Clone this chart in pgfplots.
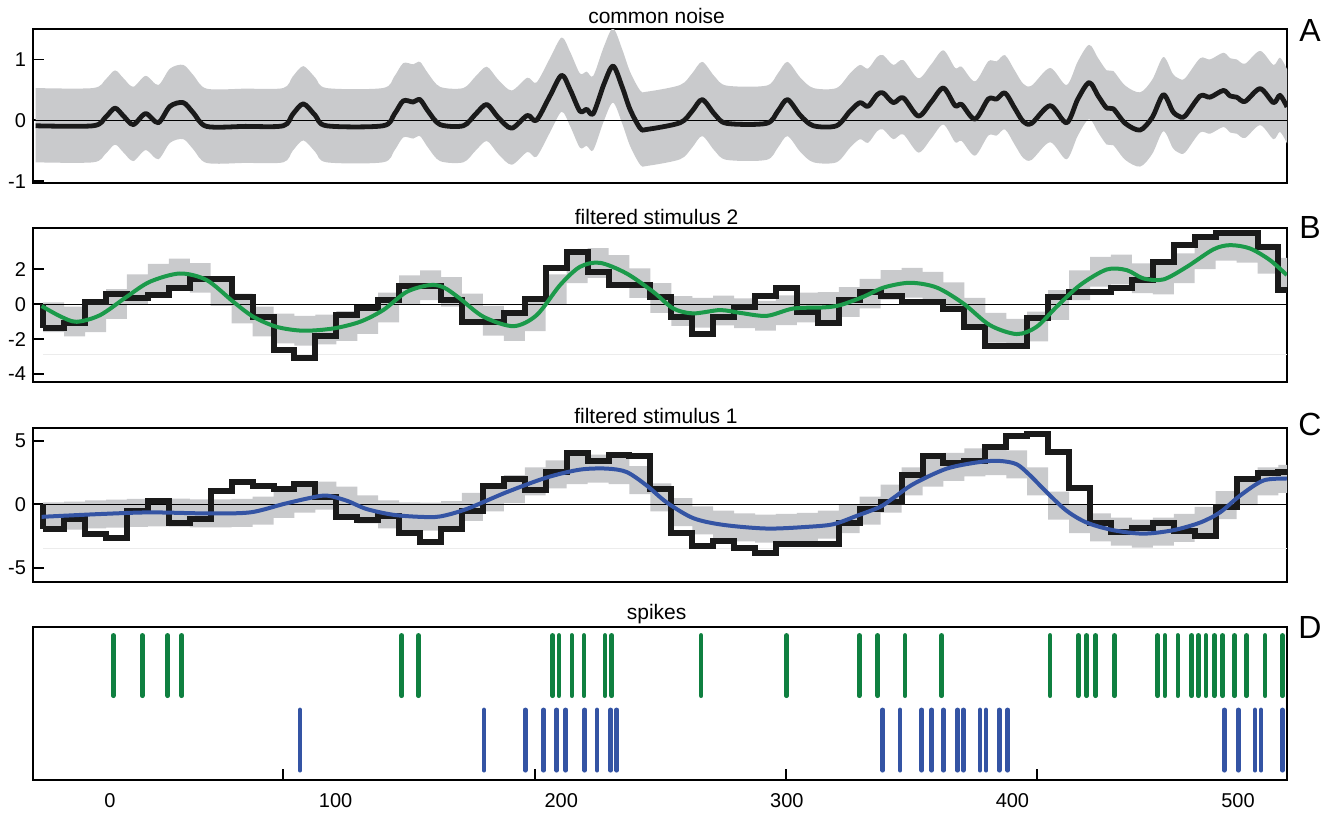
\documentclass[border=0pt]{standalone}
\usepackage{pgfplots}
\pgfplotsset{compat=1.18}
\usepackage{pgfplotstable}
\usepgfplotslibrary{fillbetween}
\usepackage{fontspec}
\setmainfont{Liberation Sans}
\definecolor{bandgray}{HTML}{C9CACC}
\definecolor{lineblack}{HTML}{1A1A1A}
\definecolor{stimgreen}{HTML}{1B9A4A}
\definecolor{spikegreen}{HTML}{0F8040}
\definecolor{stimblue}{HTML}{3454A4}
\definecolor{faint}{HTML}{ECECEC}

\pgfplotstableread{
x y hi lo
-33 -0.09 0.53 -0.69
-7.5 -0.09 0.53 -0.69
-2 0.05 0.67 -0.55
2.2 0.2 0.82 -0.40
6 0.07 0.69 -0.53
10.3 -0.07 0.55 -0.67
15.8 0.11 0.73 -0.49
21.4 -0.04 0.58 -0.64
26.6 0.23 0.85 -0.37
32.5 0.29 0.91 -0.31
37 0.12 0.74 -0.48
42.8 -0.1 0.52 -0.70
60 -0.1 0.52 -0.70
76.8 -0.09 0.53 -0.69
81 0.1 0.72 -0.50
85.7 0.27 0.89 -0.33
91 0.08 0.70 -0.52
96 -0.09 0.53 -0.69
121 -0.09 0.53 -0.69
126 0.1 0.72 -0.50
130 0.32 0.94 -0.28
134.4 0.3 0.92 -0.30
137.4 0.34 0.96 -0.26
141 0.15 0.77 -0.45
146.3 -0.07 0.55 -0.67
156.6 -0.09 0.53 -0.69
162 0.1 0.72 -0.50
167 0.26 0.88 -0.34
172 0.05 0.67 -0.55
178 -0.13 0.49 -0.73
185 0.08 0.70 -0.52
189 0.0 0.62 -0.60
195 0.4 1.02 -0.20
200.2 0.74 1.36 0.14
204 0.5 1.12 -0.10
208.3 0.15 0.77 -0.45
211.3 0.18 0.80 -0.42
214.2 0.11 0.73 -0.49
219 0.6 1.22 0.00
223 0.89 1.51 0.29
227 0.55 1.17 -0.05
230.5 0.18 0.80 -0.42
235 -0.13 0.49 -0.73
237.9 -0.15 0.47 -0.75
252.7 -0.04 0.58 -0.64
258 0.15 0.77 -0.45
262.5 0.34 0.96 -0.26
268 0.1 0.72 -0.50
273.3 -0.05 0.57 -0.65
291 -0.05 0.57 -0.65
296 0.15 0.77 -0.45
300.3 0.34 0.96 -0.26
306 0.08 0.70 -0.52
311.8 -0.09 0.53 -0.69
322 -0.09 0.53 -0.69
328 0.15 0.77 -0.45
332.4 0.29 0.91 -0.31
336 0.23 0.85 -0.37
340 0.42 1.04 -0.18
342.7 0.45 1.07 -0.15
347.2 0.29 0.91 -0.31
351.6 0.37 0.99 -0.23
358.3 0.07 0.69 -0.53
364 0.3 0.92 -0.30
369.4 0.53 1.15 -0.07
374.6 0.24 0.86 -0.36
377.5 0.26 0.88 -0.34
383.4 0.02 0.64 -0.58
389.3 0.35 0.97 -0.25
393 0.35 0.97 -0.25
396.7 0.45 1.07 -0.15
401 0.2 0.82 -0.40
404.8 -0.02 0.60 -0.62
408.5 -0.05 0.57 -0.65
416.7 0.24 0.86 -0.36
424 -0.04 0.58 -0.64
429 0.35 0.97 -0.25
434 0.62 1.24 0.02
438 0.4 1.02 -0.20
441.8 0.2 0.82 -0.40
444.7 0.19 0.81 -0.41
450 -0.05 0.57 -0.65
456.6 -0.16 0.46 -0.76
462 0.05 0.67 -0.55
466.9 0.42 1.04 -0.18
471 0.15 0.77 -0.45
473.6 0.07 0.69 -0.53
476.5 0.07 0.69 -0.53
483.2 0.4 1.02 -0.20
487.6 0.38 1.00 -0.22
493.5 0.49 1.11 -0.11
496.5 0.4 1.02 -0.20
499.4 0.38 1.00 -0.22
503.1 0.31 0.93 -0.29
509.8 0.52 1.14 -0.08
515.7 0.29 0.91 -0.31
518.6 0.41 1.03 -0.19
521.7 0.22 0.84 -0.38
}\Adata

\pgfplotstableread{
x val lo hi
-29.6 -1.39 -1.60 0.10
-20.32 -1.1 -1.85 -0.15
-11.04 0.13 -1.60 0.10
-1.76 0.55 -0.85 0.85
7.52 0.36 0.00 1.70
16.8 0.51 0.60 2.30
26.08 0.93 0.90 2.60
35.36 1.43 0.65 2.35
44.64 1.43 -0.10 1.60
53.92 0.42 -1.10 0.60
63.2 -0.72 -1.85 -0.15
72.48 -2.63 -2.25 -0.55
81.76 -3.1 -2.37 -0.67
91.04 -1.83 -2.30 -0.60
100.32 -0.63 -2.10 -0.40
109.6 -0.25 -1.70 0.00
118.88 0.23 -1.05 0.65
128.16 1.05 -0.05 1.65
137.44 1.05 0.23 1.93
146.72 0.23 -0.15 1.55
156.0 -1.01 -1.10 0.60
165.28 -1.01 -1.80 -0.10
174.56 -0.53 -2.10 -0.40
183.84 0.27 -1.55 0.15
193.12 2.04 0.00 1.70
202.4 2.99 1.20 2.90
211.68 1.85 1.50 3.20
220.96 1.09 1.10 2.80
230.24 1.09 0.35 2.05
239.52 0.42 -0.50 1.20
248.8 -0.72 -1.25 0.45
258.08 -1.68 -1.35 0.35
267.36 -0.72 -1.22 0.48
276.64 -0.15 -1.37 0.33
285.92 0.48 -1.52 0.18
295.2 0.9 -1.20 0.50
304.48 -0.44 -1.05 0.65
313.76 -1.1 -1.02 0.68
323.04 0.23 -0.73 0.97
332.32 0.70 -0.25 1.45
341.6 0.46 0.25 1.95
350.88 0.13 0.37 2.07
360.16 0.13 0.15 1.85
369.44 -0.3 -0.45 1.25
378.72 -1.3 -1.35 0.35
388.0 -2.38 -2.20 -0.50
397.28 -2.38 -2.55 -0.85
406.56 -0.82 -2.13 -0.43
415.84 0.42 -0.90 0.80
425.12 0.7 0.23 1.93
434.4 0.7 1.00 2.70
443.68 0.9 1.13 2.83
452.96 1.37 0.63 2.33
462.24 2.42 0.56 2.26
471.52 3.37 1.20 2.90
480.8 3.85 2.00 3.70
490.08 4.04 2.48 4.18
499.36 4.04 2.37 4.07
508.64 3.27 1.75 3.45
517.92 0.8 0.95 2.65
521.7 0.8 0.95 2.65
}\Bsteps

\pgfplotstableread{
x y
-30.3 -0.11
-22 -0.7
-14.8 -1.01
-4.4 -0.63
7.4 0.42
17.7 1.28
31 1.75
42.9 1.37
54.7 0.13
63.5 -0.72
73.9 -1.3
85.7 -1.52
99 -1.39
110.8 -1.01
121.1 -0.34
131.5 0.70
141.8 1.09
148 0.95
155.1 0.32
165.5 -0.72
178.8 -1.26
189.1 -0.63
199.5 1.09
208.3 2.13
217.2 2.36
229 1.75
240.8 0.70
249.7 -0.25
258.5 -0.53
270.4 -0.34
279.3 -0.5
291.1 -0.67
302.9 -0.25
316.2 -0.19
323.6 -0.06
333.9 0.42
343 0.95
354.6 1.22
366.4 0.95
378.2 0.04
390 -1.2
401.9 -1.71
410.7 -1.3
419.6 -0.15
430 1.09
441.8 1.98
450.7 1.94
458 1.47
466.9 1.41
477.3 2.13
489.1 3.13
496.5 3.37
505.3 3.18
514.2 2.51
521.6 1.66
}\Bgreen

\pgfplotstableread{
x val lo hi
-29.6 -1.95 -2.05 0.15
-20.32 -1.16 -1.98 0.22
-11.04 -2.3 -1.88 0.32
-1.76 -2.62 -1.83 0.37
7.52 -0.5 -1.76 0.44
16.8 0.29 -1.73 0.47
26.08 -1.43 -1.75 0.45
35.36 -1.16 -1.80 0.40
44.64 1.03 -1.80 0.40
53.92 1.75 -1.76 0.44
63.2 1.48 -1.60 0.60
72.48 1.22 -1.07 1.13
81.76 1.62 -0.65 1.55
91.04 0.56 -0.42 1.78
100.32 -1.03 -0.81 1.39
109.6 -1.24 -1.50 0.70
118.88 -0.9 -1.88 0.32
128.16 -2.22 -2.05 0.15
137.44 -2.94 -2.07 0.13
146.72 -1.95 -1.95 0.25
156.0 -0.5 -1.30 0.90
165.28 1.48 -0.55 1.65
174.56 2.02 0.10 2.30
183.84 1.14 0.70 2.90
193.12 2.54 1.25 3.45
202.4 4.0 1.60 3.80
211.68 3.41 1.70 3.90
220.96 3.87 1.60 3.80
230.24 3.79 0.80 3.00
239.52 1.22 -0.55 1.65
248.8 -2.22 -1.70 0.50
258.08 -3.28 -2.35 -0.15
267.36 -2.88 -2.70 -0.50
276.64 -3.46 -2.90 -0.70
285.92 -3.81 -3.00 -0.80
295.2 -3.1 -2.95 -0.75
304.48 -3.14 -2.87 -0.67
313.76 -3.14 -2.70 -0.50
323.04 -1.43 -2.25 -0.05
332.32 -0.37 -1.60 0.60
341.6 0.16 -0.65 1.55
350.88 2.28 0.70 2.90
360.16 3.79 1.40 3.60
369.44 3.25 1.85 4.05
378.72 3.41 2.20 4.40
388.0 4.52 2.30 4.50
397.28 5.37 2.05 4.25
406.56 5.53 0.70 2.90
415.84 4.13 -1.20 1.00
425.12 1.3 -2.25 -0.05
434.4 -1.43 -2.90 -0.70
443.68 -2.14 -3.25 -1.05
452.96 -1.83 -3.40 -1.20
462.24 -1.43 -3.25 -1.05
471.52 -2.09 -2.95 -0.75
480.8 -2.48 -2.40 -0.20
490.08 -0.24 -1.15 1.05
499.36 2.02 -0.05 2.15
508.64 2.46 0.70 2.90
517.92 2.54 0.90 3.10
521.7 2.54 0.90 3.10
}\Csteps

\pgfplotstableread{
x y
-30.3 -0.98
-4.4 -0.76
17.7 -0.63
42.9 -0.71
62.1 -0.63
77 0.03
88.8 0.51
96.1 0.69
104.9 0.29
113.8 -0.37
125.6 -0.82
137.4 -0.98
146.3 -0.95
158 -0.37
175.7 0.95
193.4 2.1
208.3 2.73
220.2 2.81
229 2.54
237.9 1.48
246.7 0.16
258.5 -1.08
271.8 -1.61
291.1 -1.9
308.8 -1.77
320.6 -1.56
331 -0.9
341.3 -0.2
347.2 0.5
356.1 1.6
370.9 2.81
385.6 3.33
394.5 3.41
401.9 3.15
407.8 2.28
415.2 0.95
424 -0.5
432.9 -1.43
444.7 -2.03
458 -2.3
471.3 -2.03
483.2 -1.43
492 -0.63
500.9 0.69
511.3 1.88
521.6 2.02
}\Cblue

\pgfplotsset{panel/.style={
  scale only axis, width=627pt, height=77pt,
  xmin=-34.13, xmax=521.7, xtick=\empty,
  anchor=north west,
  axis line style={line width=0.9pt, black},
  tick align=inside, tick pos=left, major tick length=5.5pt,
  tick style={line width=0.9pt, black},
  tick label style={font=\fontsize{10}{12}\selectfont},
}}

\begin{document}
\begin{tikzpicture}

% ---------- A ----------
\begin{axis}[panel, at={(16.5pt,-14.5pt)}, ymin=-1.03, ymax=1.5,
  ytick={-1,0,1}, yticklabels={-1,0,1}]
\addplot[name path=Ahi, draw=none, smooth] table[x=x, y=hi] {\Adata};
\addplot[name path=Alo, draw=none, smooth] table[x=x, y=lo] {\Adata};
\addplot[fill=bandgray, draw=none] fill between[of=Ahi and Alo];
\addplot[black, line width=0.5pt] coordinates {(-34.13,0) (521.7,0)};
\addplot[lineblack, line width=2.4pt, smooth, tension=0.5, line join=round] table[x=x, y=y] {\Adata};
\end{axis}

% ---------- B ----------
\begin{axis}[panel, at={(16.5pt,-114pt)}, ymin=-4.45, ymax=4.35,
  ytick={-4,-2,0,2}, yticklabels={-4,-2,0,2}]
\addplot[name path=Bhi, draw=none, const plot] table[x=x, y=hi] {\Bsteps};
\addplot[name path=Blo, draw=none, const plot] table[x=x, y=lo] {\Bsteps};
\addplot[fill=bandgray, draw=none] fill between[of=Bhi and Blo];
\addplot[faint, line width=0.5pt] coordinates {(-29.6,-2.86) (521.7,-2.86)};
\addplot[black, line width=0.5pt] coordinates {(-34.13,0) (521.7,0)};
\addplot[lineblack, line width=3pt] coordinates {(-29.6,0) (-29.6,-1.39)};
\addplot[lineblack, line width=3pt, const plot, line join=miter] table[x=x, y=val] {\Bsteps};
\addplot[stimgreen, line width=2pt, smooth] table[x=x, y=y] {\Bgreen};
\end{axis}

% ---------- C ----------
\begin{axis}[panel, at={(16.5pt,-214pt)}, ymin=-6.1, ymax=6.0,
  ytick={-5,0,5}, yticklabels={-5,0,5}]
\addplot[name path=Chi, draw=none, const plot] table[x=x, y=hi] {\Csteps};
\addplot[name path=Clo, draw=none, const plot] table[x=x, y=lo] {\Csteps};
\addplot[fill=bandgray, draw=none] fill between[of=Chi and Clo];
\addplot[faint, line width=0.5pt] coordinates {(-29.6,-3.5) (521.7,-3.5)};
\addplot[black, line width=0.5pt] coordinates {(-34.13,0) (521.7,0)};
\addplot[lineblack, line width=3pt] coordinates {(-29.6,0) (-29.6,-1.95)};
\addplot[lineblack, line width=3pt, const plot, line join=miter] table[x=x, y=val] {\Csteps};
\addplot[stimblue, line width=2pt, smooth] table[x=x, y=y] {\Cblue};
\end{axis}

% ---------- D ----------
\begin{axis}[panel, at={(16.5pt,-313.5pt)}, height=76.5pt, ymin=0, ymax=1,
  ytick=\empty,
  xtick={76.7,188.4,299.6,410.9}, xticklabels={},
  extra x ticks={0,100,200,300,400,500},
  extra x tick labels={0,100,200,300,400,500},
  extra x tick style={major tick length=0pt, tick label style={yshift=-3pt}}]
\addplot[only marks, color=spikegreen, mark=|, mark size=15.1pt,
  mark options={line width=2.3pt, line cap=round}] coordinates {
(1.5,0.748) (14.3,0.748) (25.6,0.748) (31.8,0.748) (129.3,0.748) (136.7,0.748)
(196.2,0.748) (199,0.748) (204.7,0.748) (210.1,0.748) (219.4,0.748) (222.4,0.748)
(262,0.748) (299.9,0.748) (332.1,0.748) (340.3,0.748) (352.4,0.748) (368.6,0.748)
(416.7,0.748) (429.2,0.748) (432.9,0.748) (436.9,0.748) (445.2,0.748) (464.4,0.748)
(467.6,0.748) (473.3,0.748) (479.5,0.748) (482.4,0.748) (485.8,0.748) (489.5,0.748)
(493.2,0.748) (498.4,0.748) (503.8,0.748) (512,0.748) (519.7,0.748)};
\addplot[only marks, color=stimblue, mark=|, mark size=15.1pt,
  mark options={line width=2.3pt, line cap=round}] coordinates {
(84.2,0.261) (165.8,0.261) (184.1,0.261) (192.2,0.261) (198,0.261) (202,0.261)
(210.4,0.261) (215.9,0.261) (221.9,0.261) (224.6,0.261) (342.5,0.261) (350.2,0.261)
(359.8,0.261) (364.2,0.261) (369.4,0.261) (375.7,0.261) (378.2,0.261) (385.6,0.261)
(388.3,0.261) (394.2,0.261) (397.9,0.261) (493.9,0.261) (500.1,0.261) (507.5,0.261)
(510.2,0.261) (519.7,0.261)};
\end{axis}

% ---------- titles and panel letters ----------
\begin{scope}[every node/.style={font=\fontsize{10.5}{12}\selectfont, anchor=base, inner sep=0pt}]
\node at (328.3pt,-11.7pt) {common noise};
\node at (328.3pt,-112pt) {filtered stimulus 2};
\node at (328pt,-211.7pt) {filtered stimulus 1};
\node at (328.3pt,-309.7pt) {spikes};
\end{scope}
\begin{scope}[every node/.style={font=\fontsize{16}{18}\selectfont, anchor=center, inner sep=0pt}]
\node at (655pt,-15pt) {A};
\node at (655pt,-113.5pt) {B};
\node at (655pt,-212pt) {C};
\node at (655pt,-313.7pt) {D};
\end{scope}
\path (0,0) rectangle (667.5pt,-407pt);
\end{tikzpicture}
\end{document}
